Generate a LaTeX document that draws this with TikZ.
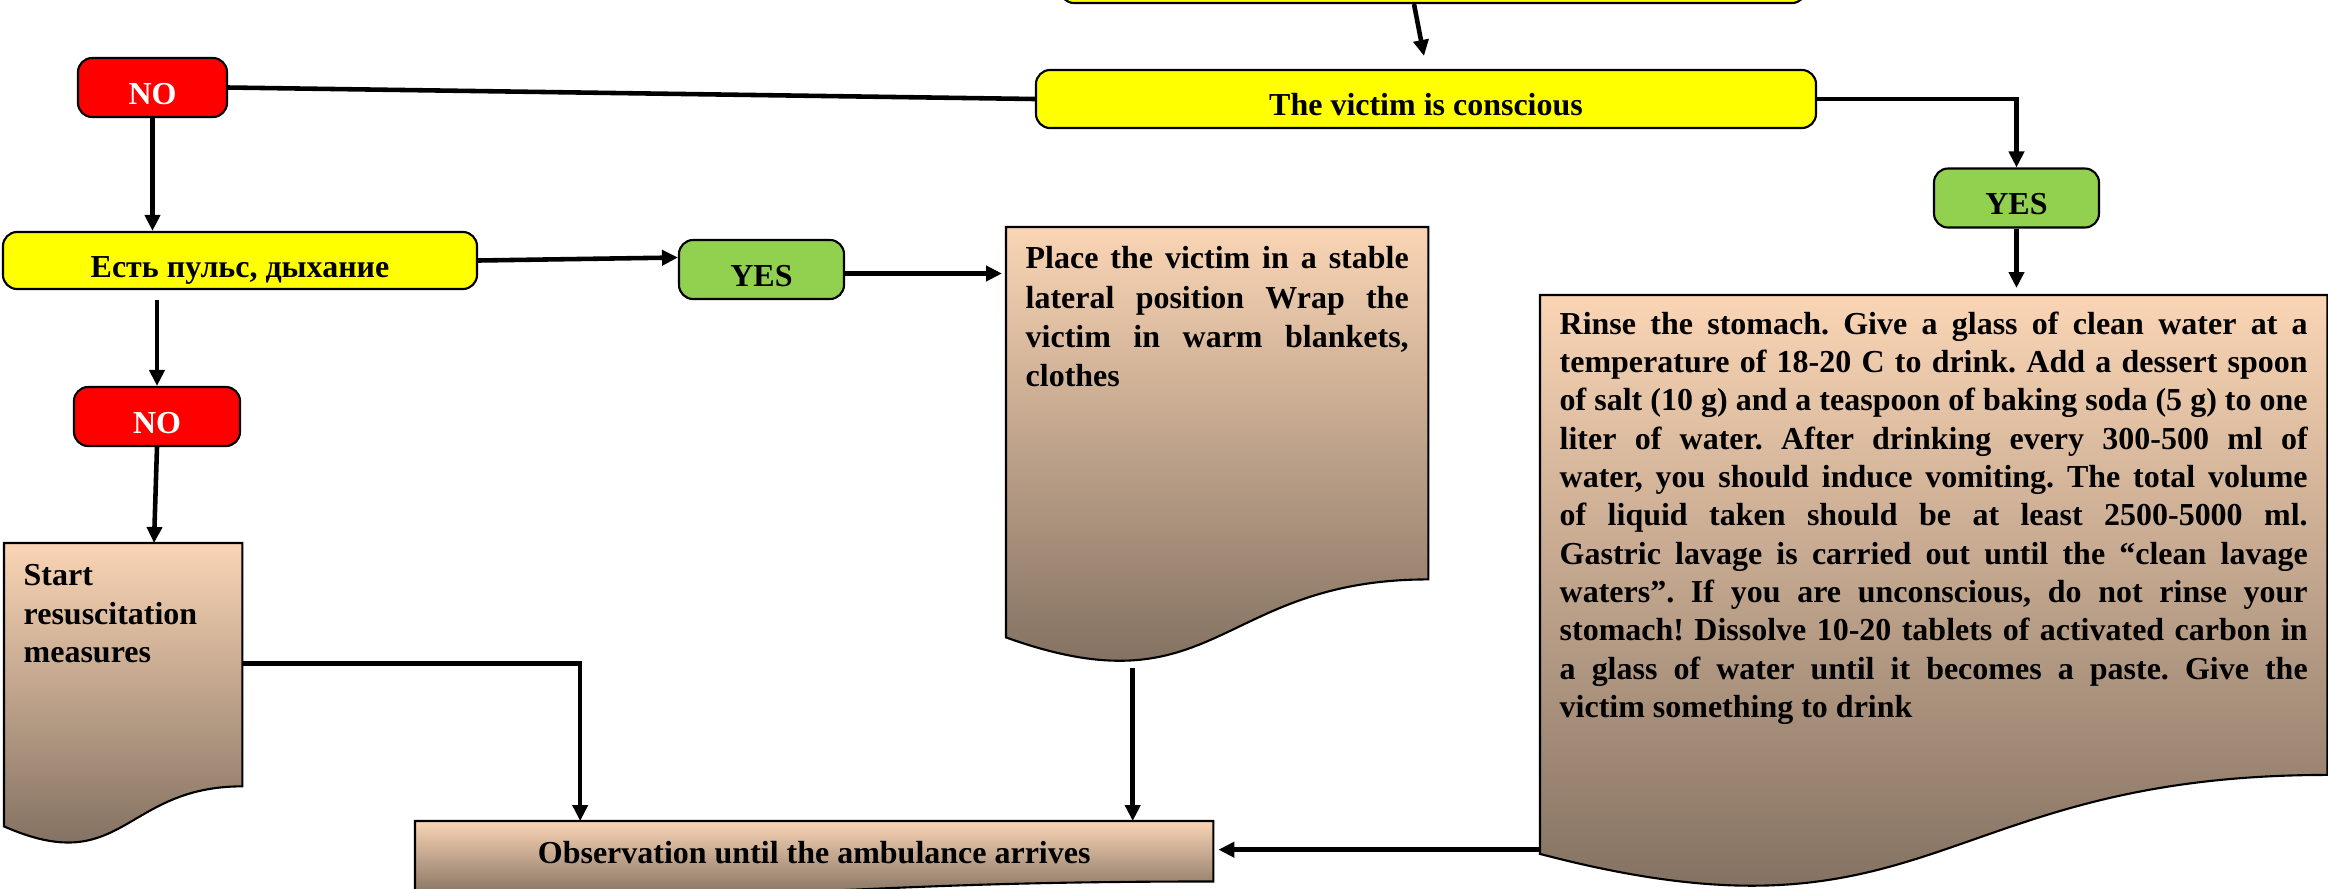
\documentclass[tikz,border=0pt]{standalone}
\usepackage{fontspec}
\setmainfont{Liberation Serif}
\usetikzlibrary{positioning}
\usetikzlibrary{calc}
\usetikzlibrary{arrows.meta}
\usetikzlibrary{backgrounds}
\definecolor{boxyellow}{RGB}{255,255,0}
\definecolor{boxred}{RGB}{255,0,0}
\definecolor{boxgreen}{RGB}{146,208,80}
\definecolor{peach}{RGB}{250,213,181}
\definecolor{umber}{RGB}{118,102,88}
\frenchspacing
\tikzset{
        every node/.style={font=\bfseries\fontsize{9.1}{10.9}\selectfont},
        box/.style={draw,line width=0.6pt,rounded corners=4pt,inner sep=0pt,align=center,text height=0.95em,text depth=0pt},
        nobox/.style={box,fill=boxred,text=white,minimum width=1.66cm,minimum height=0.59cm},
        yesbox/.style={box,fill=boxgreen,minimum width=1.65cm,minimum height=0.59cm},
        docnode/.style={anchor=north west,inner xsep=0.19cm,inner ysep=0pt},
        conn/.style={line width=1.3pt},
        arr/.style={conn,-{Triangle[length=0.16cm,width=0.15cm]}},
        }
% text of a document box: [top gap]{height}{width}{text}
\newcommand{\doctext}[4][0.16cm]{\parbox[t][#2][t]{#3}{\tolerance=9999\hyphenpenalty=10000\vspace*{#1}#4}}
% wavy document outline behind a node
\newcommand{\docwave}[1]{%
  \draw [line width=0.6pt,top color=peach,bottom color=umber]
    let \p1=(#1.north west), \p2=(#1.south east) in
    (\x1,\y1) -- (\x2,\y1) -- (\x2,{\y1+0.802*(\y2-\y1)})
    .. controls ({0.5*(\x1+\x2)},{\y1+0.802*(\y2-\y1)}) and ({0.5*(\x1+\x2)},{\y1+1.107*(\y2-\y1)}) .. (\x1,{\y1+0.934*(\y2-\y1)}) -- cycle;}

\begin{document}
\begin{tikzpicture}
			\useasboundingbox (0,0) rectangle (23.28,-8.88);

			% questions
			\node (top) [box,fill=boxyellow,minimum width=7.46cm,minimum height=0.58cm] at (14.33,0.26) {};
			\node (conscious) [box,fill=boxyellow,minimum width=7.80cm,minimum height=0.58cm] at (14.26,-0.99) {The victim is conscious};
			\node (pulse) [box,fill=boxyellow,minimum width=4.74cm,minimum height=0.57cm] at (2.40,-2.605) {Есть пульс, дыхание};

			% answers
			\node (no1) [nobox,minimum width=1.49cm] at (1.525,-0.875) {NO};
			\node (no2) [nobox] at (1.57,-4.165) {NO};
			\node (yes1) [yesbox] at (7.615,-2.695) {YES};
			\node (yes2) [yesbox] at (20.165,-1.98) {YES};

			% documents
			\node (place) [docnode] at (10.06,-2.27) {\doctext[0.19cm]{4.38cm}{3.83cm}{\baselineskip=11.2pt Place the victim in a stable\linebreak lateral position Wrap the\linebreak victim in warm blankets,\linebreak clothes}};
			\node (start) [docnode] at (0.04,-5.43) {\doctext[0.21cm]{3.02cm}{1.99cm}{Start\\ resuscitation\\ measures}};
			\node (rinse) [docnode] at (15.40,-2.95) {\doctext{5.97cm}{7.48cm}{Rinse the stomach. Give a glass of clean water at a\linebreak temperature of 18-20 C to drink. Add a dessert spoon\linebreak of salt (10 g) and a teaspoon of baking soda (5 g) to one\linebreak liter of water. After drinking every 300-500 ml of\linebreak water, you should induce vomiting. The total volume\linebreak of liquid taken should be at least 2500-5000 ml.\linebreak Gastric lavage is carried out until the “clean lavage\linebreak waters”. If you are unconscious, do not rinse your\linebreak stomach! Dissolve 10-20 tablets of activated carbon in\linebreak a glass of water until it becomes a paste. Give the\linebreak victim something to drink}};
			\node (obs) [docnode,inner xsep=0pt] at (4.15,-8.21) {\doctext[0.2cm]{0.74cm}{7.97cm}{\centering Observation until the ambulance arrives}};

			\begin{scope}[on background layer]
				\docwave{place}
				\docwave{start}
				\docwave{rinse}
				\docwave{obs}
			\end{scope}

			% free ends
			\coordinate (topout) at ([xshift=-0.19cm]top.south);
			\coordinate (pulseout) at ([yshift=-0.1cm]pulse.south);
			\coordinate (placeout) at ([xshift=-0.845cm,yshift=-0.02cm]place.south);
			\coordinate (startout) at ([yshift=0.31cm]start.east);
			\coordinate (rinseout) at ([yshift=-2.555cm]rinse.west);
			\coordinate (obsin) at ([xshift=-2.34cm]obs.north);

			% conscious branch
			\draw [arr] (topout) to ([xshift=-0.02cm,yshift=0.13cm]conscious.north);
			\draw [conn] (conscious.west) to (no1.east);
			\draw [arr] (conscious.east) -| (yes2.north);
			\draw [arr,shorten >=0.07cm] (yes2.south) to (yes2.south |- rinse.north);

			% pulse branch
			\draw [arr] (no1.south) to (no1.south |- pulse.north);
			\draw [arr] (pulse.east) to ([yshift=0.12cm]yes1.west);
			\draw [arr,shorten >=0.04cm] ([yshift=-0.04cm]yes1.east) to ([yshift=-0.04cm]yes1.east -| place.west);
			\draw [arr] (pulseout -| no2.north) to (no2.north);
			\draw [arr] (no2.south) to ([xshift=-0.03cm]no2.south |- start.north);

			% to observation
			\draw [arr] (startout) -| (obsin);
			\draw [arr] (placeout) to (placeout |- obs.north);
			\draw [arr,shorten >=0.05cm] (rinseout) to (rinseout -| obs.east);
		\end{tikzpicture}
\end{document}
